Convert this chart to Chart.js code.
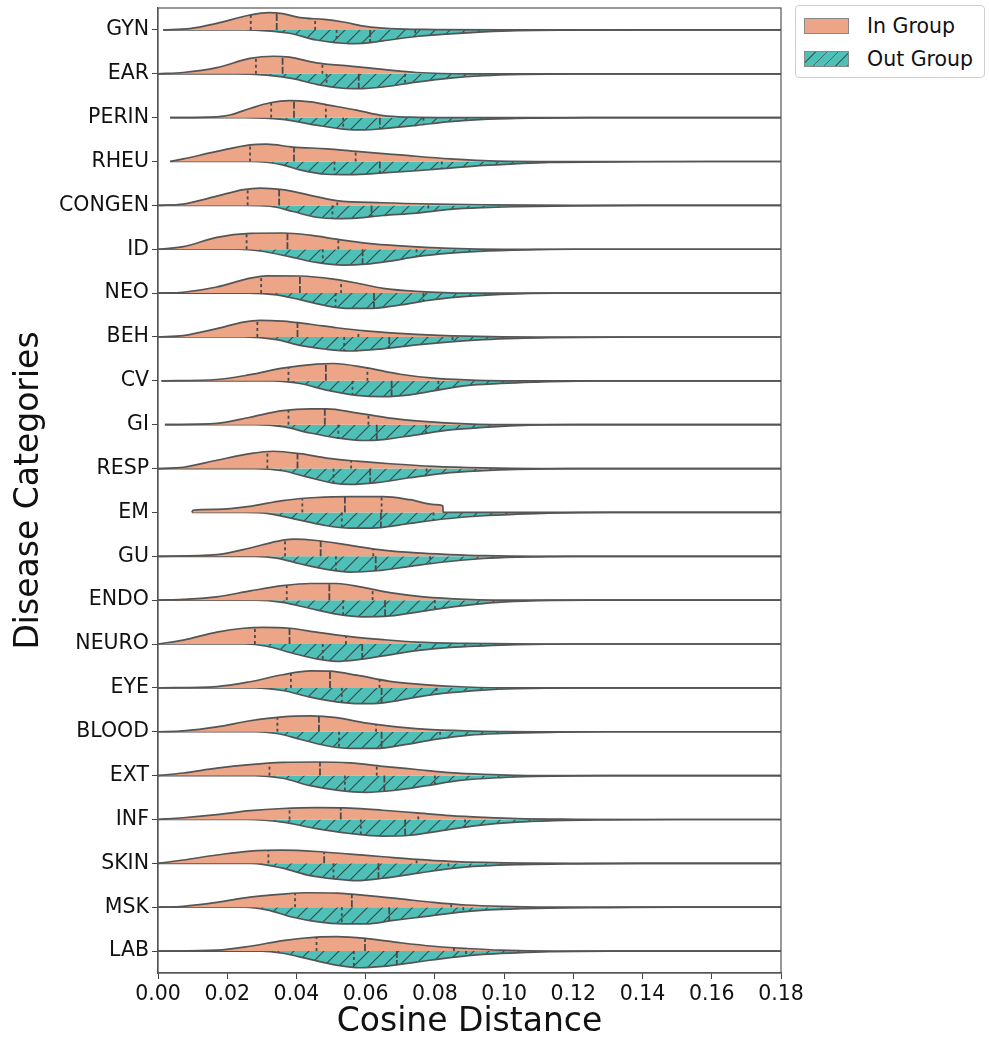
<!DOCTYPE html>
<html>
<head>
<meta charset="utf-8">
<script src="https://cdn.jsdelivr.net/npm/chart.js@4"></script>
<style>
  body { margin: 0; background: #fff; font-family: "DejaVu Sans", sans-serif; }
  #wrap { position: relative; width: 989px; height: 1042px; }
  #legend { position: absolute; left: 795px; top: 5px; width: 190px; height: 73px; box-sizing: border-box;
            border: 1px solid #cfcfcf; border-radius: 4px; background: #fff; }
  .item { position: absolute; left: 8px; height: 18px; display: flex; align-items: center; font-size: 20.5px; color: #111; }
  .sw { width: 45px; height: 16px; box-sizing: border-box; border: 1px solid #888; margin-right: 18px; }
  .sw.in { background: #eda587; }
  .sw.out { background: repeating-linear-gradient(135deg, #4fc0b8 0, #4fc0b8 7px, #3f6e6a 7px, #3f6e6a 8px); }
</style>
</head>
<body>
<div id="wrap">
  <canvas id="violinChart"></canvas>
  <div id="legend">
    <div class="item" style="top:11px"><span class="sw in"></span>In Group</div>
    <div class="item" style="top:44px"><span class="sw out"></span>Out Group</div>
  </div>
</div>
<script>
const categories = ['GYN', 'EAR', 'PERIN', 'RHEU', 'CONGEN', 'ID', 'NEO', 'BEH', 'CV', 'GI', 'RESP',
    'EM', 'GU', 'ENDO', 'NEURO', 'EYE', 'BLOOD', 'EXT', 'INF', 'SKIN', 'MSK', 'LAB'];

// density profiles: [cosine distance, density (in row units)]
const inGroup = [
    [[0.0015,0],[0.0092,0.03],[0.017,0.15],[0.0266,0.34],[0.032,0.395],[0.036,0.37],[0.041,0.28],[0.048,0.24],[0.0535,0.18],[0.060,0.08],[0.067,0.03],[0.080,0.008],[0.10,0]],
    [[0,0],[0.0073,0.03],[0.017,0.14],[0.0266,0.35],[0.0333,0.40],[0.038,0.38],[0.0458,0.25],[0.0555,0.175],[0.065,0.10],[0.0747,0.03],[0.09,0]],
    [[0.0035,0],[0.017,0.02],[0.0208,0.06],[0.0266,0.21],[0.0324,0.34],[0.038,0.39],[0.044,0.36],[0.0497,0.28],[0.0574,0.17],[0.065,0.045],[0.0728,0.01],[0.085,0]],
    [[0.0035,0],[0.0073,0.06],[0.017,0.23],[0.0266,0.38],[0.0314,0.395],[0.039,0.33],[0.0487,0.29],[0.0574,0.23],[0.070,0.15],[0.0844,0.06],[0.094,0.02],[0.11,0]],
    [[0,0],[0.0073,0.03],[0.017,0.21],[0.0247,0.36],[0.0295,0.395],[0.036,0.36],[0.044,0.23],[0.0516,0.11],[0.065,0.06],[0.080,0.03],[0.094,0.015],[0.12,0]],
    [[0,0],[0.0073,0.06],[0.017,0.27],[0.0266,0.36],[0.036,0.37],[0.044,0.32],[0.0516,0.23],[0.060,0.14],[0.070,0.076],[0.0844,0.02],[0.10,0]],
    [[0,0],[0.0073,0.02],[0.017,0.14],[0.0266,0.34],[0.0314,0.395],[0.041,0.39],[0.0507,0.32],[0.0574,0.23],[0.065,0.11],[0.0747,0.04],[0.09,0]],
    [[0,0],[0.0073,0.03],[0.017,0.19],[0.0247,0.34],[0.0295,0.38],[0.036,0.36],[0.044,0.29],[0.0516,0.21],[0.060,0.14],[0.0747,0.06],[0.089,0.02],[0.11,0]],
    [[0.001,0],[0.017,0.03],[0.0266,0.14],[0.036,0.29],[0.0458,0.38],[0.0507,0.395],[0.060,0.30],[0.070,0.15],[0.0796,0.06],[0.089,0.02],[0.10,0]],
    [[0.002,0],[0.017,0.03],[0.0266,0.17],[0.036,0.32],[0.044,0.36],[0.0487,0.36],[0.0574,0.27],[0.067,0.15],[0.0767,0.076],[0.089,0.02],[0.105,0]],
    [[0,0],[0.0073,0.03],[0.017,0.19],[0.0266,0.34],[0.0333,0.395],[0.041,0.34],[0.0487,0.24],[0.0574,0.17],[0.067,0.11],[0.0796,0.05],[0.094,0.015],[0.11,0]],
    [[0.0098,0],[0.0101,0.05],[0.017,0.07],[0.0266,0.14],[0.036,0.27],[0.0458,0.34],[0.0555,0.36],[0.065,0.36],[0.0728,0.29],[0.080,0.18],[0.0823,0.15],[0.0824,0]],
    [[0,0],[0.017,0.04],[0.0266,0.19],[0.0343,0.34],[0.039,0.39],[0.0458,0.36],[0.0555,0.25],[0.065,0.14],[0.0747,0.076],[0.0844,0.04],[0.094,0.015],[0.11,0]],
    [[0,0],[0.0073,0.02],[0.017,0.076],[0.0266,0.21],[0.036,0.33],[0.044,0.38],[0.0516,0.38],[0.0593,0.29],[0.067,0.17],[0.0767,0.076],[0.089,0.02],[0.105,0]],
    [[0,0],[0.0073,0.09],[0.017,0.27],[0.0247,0.36],[0.0304,0.38],[0.038,0.36],[0.0458,0.27],[0.0555,0.17],[0.065,0.10],[0.0747,0.045],[0.089,0.015],[0.11,0]],
    [[0,0],[0.017,0.03],[0.0266,0.14],[0.036,0.30],[0.044,0.39],[0.0497,0.38],[0.0574,0.29],[0.067,0.15],[0.0767,0.076],[0.089,0.02],[0.105,0]],
    [[0,0],[0.0073,0.02],[0.017,0.11],[0.0266,0.25],[0.036,0.34],[0.044,0.36],[0.0516,0.32],[0.0593,0.21],[0.067,0.13],[0.0767,0.06],[0.089,0.02],[0.11,0]],
    [[0,0],[0.0073,0.06],[0.017,0.17],[0.0266,0.25],[0.036,0.30],[0.0458,0.31],[0.0555,0.29],[0.065,0.21],[0.0747,0.14],[0.0844,0.07],[0.094,0.03],[0.11,0]],
    [[0,0],[0.0073,0.04],[0.017,0.11],[0.0266,0.20],[0.036,0.25],[0.0458,0.27],[0.0555,0.26],[0.065,0.21],[0.0747,0.15],[0.0844,0.09],[0.094,0.05],[0.1036,0.02],[0.12,0.005],[0.14,0]],
    [[0,0],[0.0073,0.076],[0.017,0.19],[0.0266,0.28],[0.036,0.30],[0.0458,0.27],[0.0555,0.21],[0.065,0.15],[0.0747,0.09],[0.0844,0.045],[0.094,0.02],[0.12,0]],
    [[0,0],[0.0073,0.02],[0.017,0.11],[0.0266,0.23],[0.036,0.30],[0.043,0.33],[0.0516,0.32],[0.060,0.27],[0.070,0.19],[0.0796,0.11],[0.089,0.05],[0.099,0.02],[0.12,0]],
    [[0,0],[0.017,0.02],[0.0266,0.11],[0.036,0.24],[0.0458,0.32],[0.0516,0.33],[0.060,0.29],[0.070,0.19],[0.0796,0.11],[0.089,0.06],[0.099,0.02],[0.115,0]]
];

const outGroup = [
    [[0.025,0],[0.0314,0.02],[0.038,0.076],[0.0458,0.23],[0.0555,0.31],[0.060,0.30],[0.065,0.25],[0.0747,0.15],[0.0844,0.09],[0.094,0.045],[0.1036,0.015],[0.12,0.004],[0.14,0]],
    [[0.022,0],[0.0314,0.03],[0.039,0.11],[0.0458,0.24],[0.0535,0.33],[0.058,0.34],[0.065,0.30],[0.0747,0.19],[0.0844,0.10],[0.094,0.045],[0.105,0.015],[0.12,0]],
    [[0.025,0],[0.036,0.04],[0.0458,0.17],[0.0535,0.26],[0.0593,0.28],[0.065,0.25],[0.0747,0.175],[0.0844,0.09],[0.094,0.04],[0.11,0.01],[0.125,0]],
    [[0.027,0],[0.036,0.076],[0.041,0.19],[0.0487,0.29],[0.0555,0.30],[0.065,0.26],[0.0747,0.21],[0.0844,0.15],[0.094,0.09],[0.1036,0.05],[0.113,0.02],[0.14,0.005],[0.16,0]],
    [[0.025,0],[0.0324,0.02],[0.039,0.14],[0.0458,0.27],[0.0516,0.30],[0.0574,0.29],[0.065,0.23],[0.0747,0.175],[0.0844,0.09],[0.094,0.05],[0.1036,0.03],[0.12,0.01],[0.14,0]],
    [[0.023,0],[0.0295,0.04],[0.038,0.17],[0.0458,0.30],[0.0535,0.36],[0.060,0.34],[0.067,0.27],[0.0747,0.17],[0.0844,0.09],[0.094,0.045],[0.11,0.01],[0.12,0]],
    [[0.026,0],[0.0343,0.04],[0.041,0.15],[0.0487,0.29],[0.0555,0.35],[0.0632,0.34],[0.070,0.27],[0.0796,0.15],[0.089,0.076],[0.099,0.03],[0.115,0]],
    [[0.025,0],[0.0343,0.06],[0.041,0.19],[0.0487,0.28],[0.0555,0.32],[0.065,0.27],[0.0747,0.18],[0.0844,0.11],[0.094,0.06],[0.1036,0.03],[0.113,0.015],[0.14,0]],
    [[0.033,0],[0.041,0.06],[0.0487,0.21],[0.0574,0.33],[0.065,0.36],[0.0728,0.32],[0.0796,0.23],[0.089,0.11],[0.099,0.06],[0.1085,0.03],[0.125,0]],
    [[0.028,0],[0.036,0.045],[0.044,0.19],[0.0516,0.30],[0.0593,0.36],[0.065,0.34],[0.0747,0.23],[0.0844,0.12],[0.094,0.06],[0.1036,0.02],[0.12,0]],
    [[0.028,0],[0.036,0.05],[0.043,0.19],[0.0507,0.33],[0.0555,0.36],[0.0632,0.32],[0.0728,0.21],[0.0825,0.11],[0.094,0.05],[0.1036,0.02],[0.12,0]],
    [[0.025,0],[0.0314,0.02],[0.039,0.14],[0.0478,0.29],[0.0555,0.36],[0.0632,0.35],[0.0728,0.25],[0.0825,0.15],[0.094,0.076],[0.1036,0.04],[0.113,0.015],[0.13,0]],
    [[0.028,0],[0.0343,0.04],[0.041,0.17],[0.0487,0.30],[0.0555,0.36],[0.0632,0.33],[0.0728,0.23],[0.0825,0.13],[0.094,0.05],[0.1036,0.02],[0.12,0]],
    [[0.028,0],[0.036,0.05],[0.044,0.19],[0.0516,0.32],[0.0593,0.38],[0.067,0.36],[0.0767,0.25],[0.0863,0.14],[0.0959,0.06],[0.1056,0.02],[0.125,0]],
    [[0.025,0],[0.0314,0.05],[0.039,0.21],[0.0458,0.34],[0.0516,0.395],[0.0574,0.36],[0.065,0.27],[0.0747,0.15],[0.0844,0.076],[0.094,0.04],[0.1036,0.015],[0.12,0]],
    [[0.028,0],[0.036,0.06],[0.044,0.21],[0.0516,0.32],[0.0583,0.36],[0.065,0.34],[0.0747,0.21],[0.0844,0.11],[0.094,0.05],[0.1036,0.02],[0.12,0]],
    [[0.028,0],[0.0343,0.04],[0.041,0.17],[0.0487,0.32],[0.0555,0.38],[0.0632,0.38],[0.0709,0.30],[0.0805,0.17],[0.090,0.076],[0.0998,0.04],[0.113,0.015],[0.13,0]],
    [[0.028,0],[0.036,0.06],[0.044,0.23],[0.0516,0.33],[0.060,0.38],[0.068,0.34],[0.0776,0.23],[0.0873,0.11],[0.099,0.045],[0.1085,0.02],[0.13,0]],
    [[0.026,0],[0.036,0.06],[0.0458,0.21],[0.0555,0.32],[0.065,0.38],[0.0728,0.36],[0.0825,0.25],[0.092,0.14],[0.1036,0.06],[0.113,0.03],[0.13,0.01],[0.15,0]],
    [[0.027,0],[0.036,0.11],[0.044,0.28],[0.0516,0.36],[0.0574,0.395],[0.065,0.34],[0.0747,0.23],[0.0844,0.12],[0.094,0.06],[0.1036,0.03],[0.12,0.01],[0.14,0]],
    [[0.025,0],[0.0314,0.06],[0.039,0.23],[0.0458,0.33],[0.0535,0.38],[0.060,0.38],[0.068,0.30],[0.0776,0.21],[0.0873,0.11],[0.099,0.05],[0.113,0.02],[0.13,0.01],[0.15,0]],
    [[0.030,0],[0.036,0.05],[0.044,0.19],[0.0516,0.32],[0.0583,0.38],[0.065,0.35],[0.0747,0.25],[0.0844,0.15],[0.094,0.076],[0.1036,0.04],[0.113,0.015],[0.13,0]]
];

// [Q1, median, Q3]
const inQuartiles = [
    [0.0268,0.0343,0.0454],[0.0283,0.0360,0.0475],[0.0327,0.0393,0.0485],[0.0266,0.0393,0.0571],
    [0.0259,0.0350,0.0518],[0.0256,0.0374,0.0521],[0.0298,0.0410,0.0529],[0.0287,0.0403,0.0579],
    [0.0377,0.0485,0.0605],[0.0377,0.0482,0.0608],[0.0316,0.0403,0.0558],[0.0417,0.0540,0.0646],
    [0.0367,0.0470,0.0622],[0.0372,0.0495,0.0620],[0.0280,0.0380,0.0543],[0.0384,0.0497,0.0640],
    [0.0345,0.0465,0.0630],[0.0322,0.0468,0.0632],[0.0380,0.0528,0.0752],[0.0319,0.0480,0.0747],
    [0.0396,0.0560,0.0847],[0.0458,0.0598,0.0855]
];
const outQuartiles = [
    [0.0516,0.0613,0.0743],[0.0487,0.0580,0.0714],[0.0535,0.0641,0.0767],[0.0510,0.0641,0.0820],
    [0.0504,0.0617,0.0781],[0.0476,0.0591,0.0747],[0.0513,0.0624,0.0767],[0.0538,0.0668,0.0851],
    [0.0562,0.0675,0.0810],[0.0521,0.0632,0.0774],[0.0507,0.0613,0.0776],[0.0531,0.0644,0.0796],
    [0.0514,0.0629,0.0786],[0.0535,0.0656,0.0800],[0.0476,0.0590,0.0757],[0.0531,0.0646,0.0805],
    [0.0523,0.0646,0.0815],[0.0540,0.0654,0.0800],[0.0586,0.0714,0.0887],[0.0507,0.0637,0.0839],
    [0.0531,0.0668,0.0882],[0.0566,0.0690,0.0890]
];

const xTicks = [0, 0.02, 0.04, 0.06, 0.08, 0.10, 0.12, 0.14, 0.16, 0.18];

const IN_COLOR = '#eda587';
const OUT_COLOR = '#4fc0b8';
const EDGE = '#555555';

function hatchPattern() {
    const s = 15;
    const c = document.createElement('canvas');
    c.width = s; c.height = s;
    const g = c.getContext('2d');
    g.fillStyle = OUT_COLOR;
    g.fillRect(0, 0, s, s);
    g.strokeStyle = 'rgba(50,72,70,0.95)';
    g.lineWidth = 1.2;
    g.beginPath();
    g.moveTo(-4, s + 4); g.lineTo(s + 4, -4);
    g.moveTo(-4, 4); g.lineTo(4, -4);
    g.moveTo(s - 4, s + 4); g.lineTo(s + 4, s - 4);
    g.stroke();
    return g.createPattern(c, 'repeat');
}

function heightAt(knots, v) {
    for (let k = 1; k < knots.length; k++) {
        const a = knots[k - 1], b = knots[k];
        if (v >= a[0] && v <= b[0]) {
            return a[1] + (b[1] - a[1]) * (v - a[0]) / (b[0] - a[0]);
        }
    }
    return 0;
}

const xMax = xTicks[xTicks.length - 1];
const datasets = [];
const pattern = hatchPattern();

categories.forEach(function(cat, i) {
    const inK = inGroup[i];
    const outK = outGroup[i];
    const start = Math.min(inK[0][0], outK[0][0]);

    const inPts = inK.map(p => ({ x: p[0], y: i - p[1] }));
    inPts.push({ x: xMax, y: i });
    const outPts = [{ x: start, y: i }].concat(outK.map(p => ({ x: p[0], y: i + p[1] })));
    outPts.push({ x: xMax, y: i });

    datasets.push({
        label: cat + ' in', data: inPts, fill: { value: i },
        backgroundColor: IN_COLOR, borderColor: EDGE, borderWidth: 1.7,
        pointRadius: 0, cubicInterpolationMode: 'monotone', order: 2
    });
    datasets.push({
        label: cat + ' out', data: outPts, fill: { value: i },
        backgroundColor: pattern, borderColor: EDGE, borderWidth: 1.7,
        pointRadius: 0, cubicInterpolationMode: 'monotone', order: 2
    });

    inQuartiles[i].forEach(function(q, j) {
        datasets.push({
            label: 'q', data: [{ x: q, y: i }, { x: q, y: i - heightAt(inK, q) }],
            borderColor: '#4a4a4a', borderWidth: 1.8, borderDash: j === 1 ? [7, 2] : [3, 3],
            pointRadius: 0, fill: false, order: 1
        });
    });
    outQuartiles[i].forEach(function(q, j) {
        datasets.push({
            label: 'q', data: [{ x: q, y: i }, { x: q, y: i + heightAt(outK, q) }],
            borderColor: '#4a4a4a', borderWidth: 1.8, borderDash: j === 1 ? [7, 2] : [3, 3],
            pointRadius: 0, fill: false, order: 1
        });
    });
});

const frame = {
    id: 'frame',
    afterDatasetsDraw(chart) {
        const a = chart.chartArea;
        const ctx = chart.ctx;
        ctx.save();
        ctx.strokeStyle = '#555';
        ctx.lineWidth = 1.2;
        ctx.strokeRect(a.left, a.top, a.right - a.left, a.bottom - a.top);
        ctx.restore();
    }
};

new Chart(document.getElementById('violinChart'), {
    type: 'line',
    data: { datasets: datasets },
    plugins: [frame],
    options: {
        responsive: true,
        maintainAspectRatio: false,
        animation: false,
        events: [],
        layout: { autoPadding: false, padding: { top: 8, right: 208, left: 0, bottom: 0 } },
        plugins: { legend: { display: false }, tooltip: { enabled: false } },
        scales: {
            x: {
                type: 'linear', min: 0, max: xMax,
                afterBuildTicks: s => { s.ticks = xTicks.map(v => ({ value: v })); },
                afterFit: s => { s.height = 69; s.paddingLeft = 0; s.paddingRight = 0; },
                ticks: { callback: v => v.toFixed(2), color: '#111', font: { family: 'DejaVu Sans', size: 20.5 }, padding: 3, maxRotation: 0 },
                grid: { drawOnChartArea: false, drawTicks: true, tickLength: 6, color: '#444' },
                border: { display: true, color: '#555', width: 1.2 },
                title: { display: true, text: 'Cosine Distance', color: '#111', font: { family: 'DejaVu Sans', size: 33 }, padding: { top: 0, bottom: 0 } }
            },
            y: {
                type: 'linear', min: -0.5, max: categories.length - 0.5, reverse: true,
                afterBuildTicks: s => { s.ticks = categories.map((c, i) => ({ value: i })); },
                afterFit: s => { s.width = 158; s.paddingTop = 0; s.paddingBottom = 0; },
                ticks: { callback: v => categories[v], color: '#111', font: { family: 'DejaVu Sans', size: 20.5 }, padding: 3 },
                grid: { drawOnChartArea: false, drawTicks: true, tickLength: 6, color: '#444' },
                border: { display: true, color: '#555', width: 1.2 },
                title: { display: true, text: 'Disease Categories', color: '#111', font: { family: 'DejaVu Sans', size: 33 }, padding: { top: 10, bottom: 0 } }
            }
        }
    }
});
</script>
</body>
</html>
